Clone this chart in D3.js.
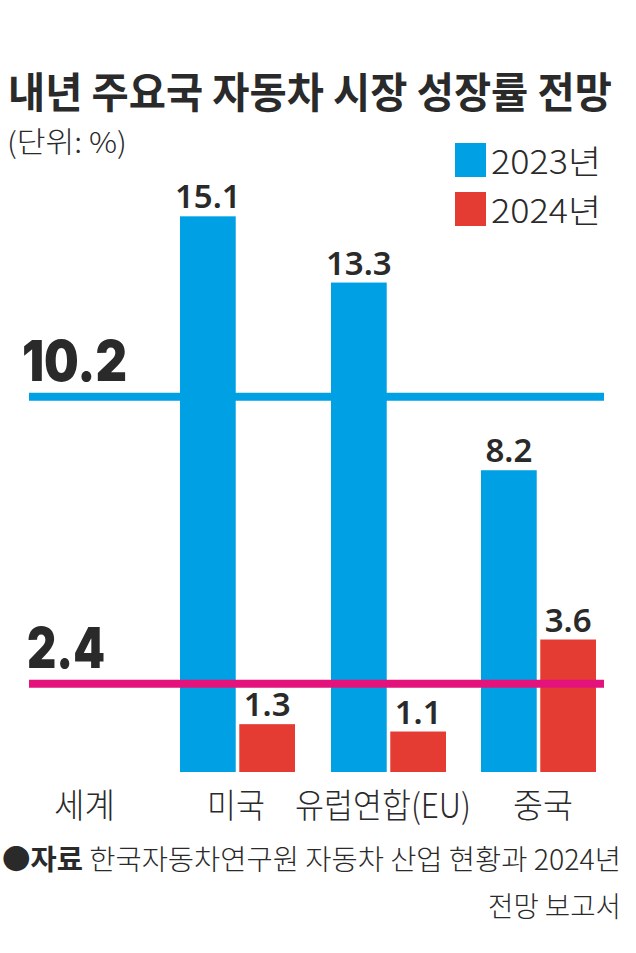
<!DOCTYPE html>
<html><head><meta charset="utf-8">
<script src="https://cdn.jsdelivr.net/npm/d3@7"></script>
<style>
html,body{margin:0;padding:0;background:#fff;}
svg{display:block;}
</style></head>
<body>
<script>
const categories = ["미국", "유럽연합(EU)", "중국"];
const series = ["2023년", "2024년"];
const values2023 = [15.1, 13.3, 8.2];
const values2024 = [1.3, 1.1, 3.6];
const worldLabel = "세계";
const world2023 = 10.2;
const world2024 = 2.4;
const colors = ["#00a0e4", "#e43c33"];
const lineColors = ["#00a0e4", "#e4137c"];

const W = 636, H = 953;
const svg = d3.select("body").append("svg").attr("width", W).attr("height", H);
const KR = "'Noto Sans CJK KR','Noto Sans',sans-serif";
const txt = "#2a2a2a";

// fit a text horizontally by scaling (keeps bbox within target width)
function fitX(sel, x, yb, target) {
  sel.attr("x", 0).attr("y", 0);
  const w = sel.node().getComputedTextLength();
  const sx = target / w;
  sel.attr("transform", `translate(${x},${yb}) scale(${sx},1)`);
  return sel;
}

// Title
fitX(svg.append("text")
  .attr("font-family", KR).attr("font-weight", 700).attr("font-size", 42).attr("fill", txt)
  .text("내년 주요국 자동차 시장 성장률 전망"), 8, 108, 604);
fitX(svg.append("text")
  .attr("font-family", KR).attr("font-weight", 300).attr("font-size", 29).attr("fill", txt)
  .text("(단위: %)"), 7, 153, 120);

// scales
const baseline = 772;
const y = d3.scaleLinear().domain([0, 15.1]).range([baseline, baseline - 36.8 * 15.1]);
const groupX = d3.scaleOrdinal().domain(categories).range([180, 331, 481]);
const x1 = d3.scaleBand().domain(series).range([0, 115]).paddingInner(0.06);

// blue reference line (behind bars)
svg.append("line").attr("x1", 29).attr("x2", 604).attr("y1", y(world2023)).attr("y2", y(world2023))
  .attr("stroke", lineColors[0]).attr("stroke-width", 8);

// bars
const data = [];
categories.forEach((c, i) => {
  data.push({cat: c, s: series[0], v: values2023[i], col: colors[0]});
  data.push({cat: c, s: series[1], v: values2024[i], col: colors[1]});
});
svg.append("g").selectAll("rect").data(data).join("rect")
  .attr("x", d => groupX(d.cat) + x1(d.s))
  .attr("width", x1.bandwidth())
  .attr("y", d => y(d.v))
  .attr("height", d => baseline - y(d.v))
  .attr("fill", d => d.col);

// pink line over bars
svg.append("line").attr("x1", 29).attr("x2", 604).attr("y1", y(world2024)).attr("y2", y(world2024))
  .attr("stroke", lineColors[1]).attr("stroke-width", 8);

// value labels
svg.append("g").selectAll("text").data(data).join("text")
  .attr("x", d => groupX(d.cat) + x1(d.s) + x1.bandwidth() / 2)
  .attr("y", d => y(d.v) - 8)
  .attr("text-anchor", "middle")
  .attr("font-family", "'Noto Sans',sans-serif").attr("font-weight", 600).attr("font-size", 33)
  .attr("fill", txt)
  .text(d => d.v.toFixed(1));

// big world labels
[[world2023, 22, 105], [world2024, 27, 78]].forEach(([v, xx, tl]) => {
  svg.append("text").attr("x", xx).attr("y", y(v) - 16)
    .attr("font-family", "Inter,'Lato',sans-serif").attr("font-weight", 900).attr("font-size", 56)
    .attr("fill", txt).attr("textLength", tl).attr("lengthAdjust", "spacingAndGlyphs")
    .text(v.toFixed(1));
});

// category labels
const catLayout = [[worldLabel, 54, 61], [categories[0], 207, 58], [categories[1], 295, 176], [categories[2], 513, 60]];
catLayout.forEach(([c, lx, lw]) => {
  svg.append("text").attr("x", lx).attr("y", 818)
    .attr("font-family", KR).attr("font-weight", 300).attr("font-size", 34).attr("fill", txt)
    .attr("textLength", lw).attr("lengthAdjust", "spacingAndGlyphs")
    .text(c);
});

// legend
series.forEach((s, i) => {
  const ly = 143 + i * 49;
  svg.append("rect").attr("x", 455).attr("y", ly).attr("width", 31).attr("height", 34).attr("fill", colors[i]);
  svg.append("text").attr("x", 491).attr("y", ly + 31)
    .attr("font-family", KR).attr("font-weight", 300).attr("font-size", 33).attr("fill", txt)
    .attr("textLength", 110).attr("lengthAdjust", "spacingAndGlyphs")
    .text(s);
});

// source
const src = svg.append("text").attr("x", 2).attr("y", 870)
  .attr("font-family", KR).attr("font-size", 28).attr("fill", txt)
  .attr("textLength", 619).attr("lengthAdjust", "spacingAndGlyphs");
src.append("tspan").attr("font-weight", 700).text("●자료");
src.append("tspan").attr("font-weight", 300).text(" 한국자동차연구원 자동차 산업 현황과 2024년");
svg.append("text").attr("x", 621).attr("y", 917).attr("text-anchor", "end")
  .attr("font-family", KR).attr("font-weight", 300).attr("font-size", 28).attr("fill", txt)
  .attr("textLength", 133).attr("lengthAdjust", "spacingAndGlyphs")
  .text("전망 보고서");
</script>
</body></html>
